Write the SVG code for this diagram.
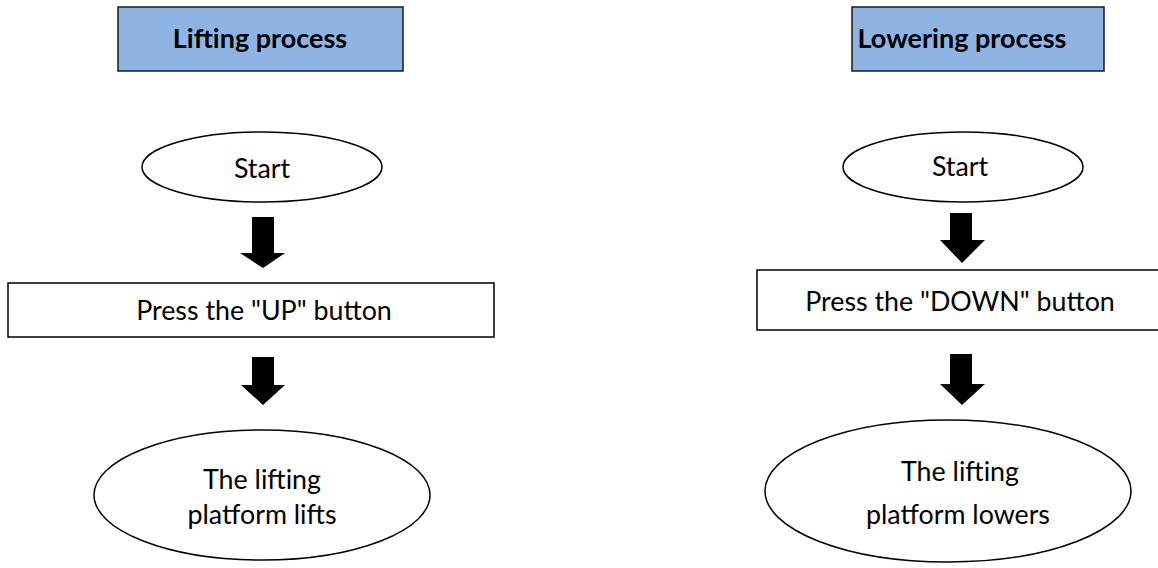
<svg xmlns="http://www.w3.org/2000/svg" width="1158" height="568" viewBox="0 0 1158 568">
<defs>
<style>
.title{fill:#8EB4E3;stroke:#1a1a1a;stroke-width:1.5}
.box{fill:#fff;stroke:#000;stroke-width:1.5}
.t{font-family:Lato,"Liberation Sans",sans-serif;font-size:26.8px;fill:#000;text-anchor:middle}
.tb{font-family:Lato,"Liberation Sans",sans-serif;font-size:27px;font-weight:bold;fill:#000;text-anchor:middle}
.arrow{fill:#000}
</style>
</defs>
<rect width="1158" height="568" fill="#fff"/>
<g id="title-lifting">
<rect class="title" x="118" y="7" width="285" height="64"/>
<text class="tb" x="260" y="48">Lifting process</text>
</g>
<g id="title-lowering">
<rect class="title" x="852" y="7" width="252" height="64"/>
<text class="tb" x="962" y="48">Lowering process</text>
</g>
<g id="start-left">
<ellipse class="box" cx="262" cy="167" rx="120" ry="35"/>
<text class="t" x="262" y="178">Start</text>
</g>
<g id="press-up">
<rect class="box" x="8" y="283" width="486" height="54"/>
<text class="t" x="264" y="320">Press the "UP" button</text>
</g>
<g id="end-left">
<ellipse class="box" cx="262" cy="495" rx="168" ry="65"/>
<text class="t" x="262" y="489">The lifting</text>
<text class="t" x="262" y="524">platform lifts</text>
</g>
<g id="start-right">
<ellipse class="box" cx="963" cy="167" rx="120" ry="35"/>
<text class="t" x="960" y="176">Start</text>
</g>
<g id="press-down">
<path class="box" d="M1160,270 H757 V330 H1160"/>
<text class="t" x="960" y="311">Press the "DOWN" button</text>
</g>
<g id="end-right">
<ellipse class="box" cx="948" cy="491" rx="183" ry="71"/>
<text class="t" x="960" y="481">The lifting</text>
<text class="t" x="958" y="524">platform lowers</text>
</g>
<g id="connectors">
<polygon class="arrow" points="252,217 274,217 274,253 285,253 263,268 240,253 252,253"/>
<polygon class="arrow" points="252,357 274,357 274,385 285,385 263,405 241,385 252,385"/>
<polygon class="arrow" points="950,213 972,213 972,240 985,240 962,263 940,240 950,240"/>
<polygon class="arrow" points="950,354 972,354 972,384 985,384 962,405 940,384 950,384"/>
</g>
</svg>
